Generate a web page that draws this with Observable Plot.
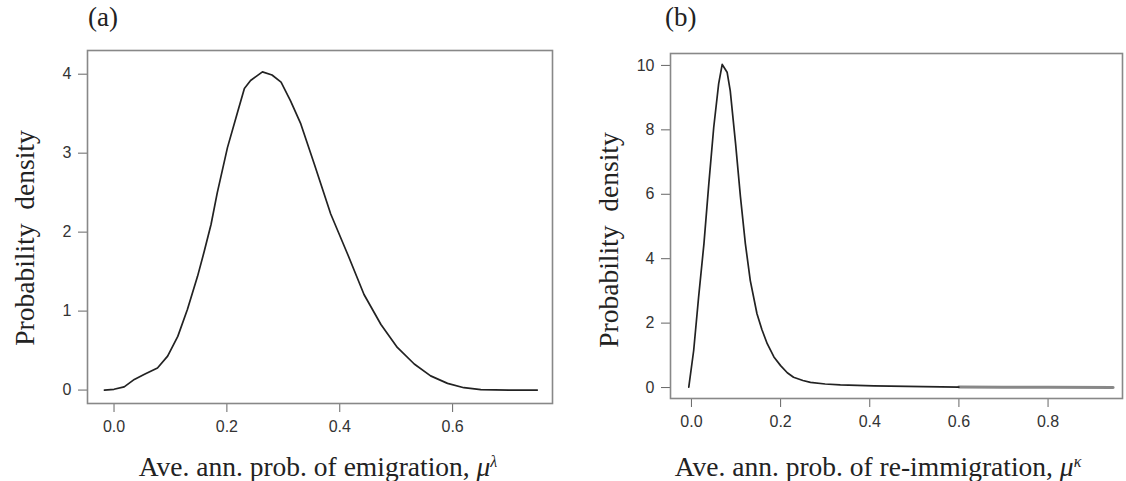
<!DOCTYPE html>
<html>
<head>
<meta charset="utf-8">
<script src="https://cdn.jsdelivr.net/npm/d3@7"></script>
<script src="https://cdn.jsdelivr.net/npm/@observablehq/plot@0.6"></script>
<style>
  html, body { margin: 0; padding: 0; background: #fff; }
  #wrap { position: relative; width: 1126px; height: 481px; overflow: hidden; background: #fff; }
  .panel { position: absolute; top: 0; }
  .lbl { position: absolute; font-family: "Liberation Serif", "DejaVu Serif", serif; color: #222; white-space: nowrap; line-height: 1.1; }
  .letter { font-size: 27px; }
  .xt { font-size: 27.5px; transform: translateX(-50%); }
  .yt { font-size: 27.5px; transform: translate(-50%, -50%) rotate(-90deg); }
  .sup { position: relative; top: -0.55em; font-size: 16px; font-style: italic; }
  .panel svg text { fill: #333; }
</style>
</head>
<body>
<div id="wrap">
  <div class="panel" id="pa" style="left:0px"></div>
  <div class="panel" id="pb" style="left:563px"></div>
  <div class="lbl letter" style="left:88px; top:3px">(a)</div>
  <div class="lbl letter" style="left:665px; top:3px">(b)</div>
  <div class="lbl yt" style="left:25px; top:238px">Probability&nbsp; density</div>
  <div class="lbl yt" style="left:609px; top:240px">Probability&nbsp; density</div>
  <div class="lbl xt" style="left:318px; top:452px">Ave. ann. prob. of emigration, <i>μ</i><span class="sup">λ</span></div>
  <div class="lbl xt" style="left:878px; top:452px">Ave. ann. prob. of re-immigration, <i>μ</i><span class="sup">κ</span></div>
</div>
<script>
// Panel (a): emigration density
const emigX = [-0.017, 0.0, 0.018, 0.036, 0.054, 0.077, 0.095, 0.113, 0.130, 0.148, 0.160, 0.172, 0.183, 0.201, 0.219, 0.231, 0.242, 0.263, 0.280, 0.296, 0.313, 0.331, 0.355, 0.384, 0.414, 0.443, 0.473, 0.502, 0.532, 0.561, 0.591, 0.620, 0.650, 0.700, 0.750];
const emigY = [0.0, 0.01, 0.04, 0.135, 0.20, 0.28, 0.43, 0.68, 1.02, 1.44, 1.76, 2.10, 2.50, 3.07, 3.52, 3.82, 3.92, 4.03, 3.99, 3.90, 3.66, 3.37, 2.86, 2.23, 1.72, 1.21, 0.83, 0.54, 0.33, 0.18, 0.085, 0.03, 0.005, 0.0, 0.0];
const emigXTicks = [0.0, 0.2, 0.4, 0.6];
const emigYTicks = [0, 1, 2, 3, 4];

// Panel (b): re-immigration density
const reimX = [-0.006, 0.005, 0.016, 0.028, 0.039, 0.050, 0.061, 0.069, 0.080, 0.087, 0.099, 0.110, 0.121, 0.132, 0.147, 0.158, 0.170, 0.185, 0.200, 0.215, 0.229, 0.250, 0.267, 0.300, 0.334, 0.409, 0.520, 0.600];
const reimY = [0.01, 1.15, 2.80, 4.46, 6.33, 8.08, 9.43, 10.03, 9.79, 9.22, 7.57, 5.91, 4.46, 3.32, 2.29, 1.80, 1.36, 0.95, 0.68, 0.46, 0.32, 0.22, 0.16, 0.11, 0.08, 0.05, 0.03, 0.015];
// noisy tail of the re-immigration density
const reimTailX = [0.600, 0.700, 0.800, 0.946];
const reimTailY = [0.015, 0.01, 0.01, 0.0];
const reimXTicks = [0.0, 0.2, 0.4, 0.6, 0.8];
const reimYTicks = [0, 2, 4, 6, 8, 10];

function panel(xs, ys, opts, extra) {
  const data = xs.map((x, i) => ({x, y: ys[i]}));
  const marks = [
    Plot.axisX({ticks: opts.xt, tickFormat: d3.format(".1f"), tickSize: 9, tickPadding: 8, stroke: "#666", label: null, fontSize: 16}),
    Plot.axisY({ticks: opts.yt, tickFormat: d3.format("d"), tickSize: 9, tickPadding: 7, stroke: "#666", label: null, fontSize: 16}),
    Plot.frame({stroke: "#888", strokeWidth: 1.6})
  ];
  if (extra) {
    const tail = extra.x.map((x, i) => ({x, y: extra.y[i]}));
    marks.push(Plot.line(tail, {x: "x", y: "y", stroke: "#888", strokeWidth: 3}));
  }
  marks.push(Plot.line(data, {x: "x", y: "y", stroke: "#222", strokeWidth: 1.7}));
  return Plot.plot({
    width: 563,
    height: 481,
    marginLeft: opts.ml,
    marginRight: opts.mr,
    marginTop: opts.mt,
    marginBottom: opts.mb,
    style: {fontFamily: "'Liberation Sans', Arial, sans-serif", fontSize: "16px", background: "transparent", color: "#333"},
    x: {domain: opts.xd},
    y: {domain: opts.yd},
    marks
  });
}

document.getElementById("pa").append(panel(emigX, emigY, {
  ml: 87, mr: 11, mt: 50, mb: 78,
  xd: [-0.047, 0.777], yd: [-0.17, 4.30],
  xt: emigXTicks, yt: emigYTicks
}));
document.getElementById("pb").append(panel(reimX, reimY, {
  ml: 107, mr: 4, mt: 53, mb: 83,
  xd: [-0.047, 0.967], yd: [-0.34, 10.37],
  xt: reimXTicks, yt: reimYTicks
}, {x: reimTailX, y: reimTailY}));
</script>
</body>
</html>
